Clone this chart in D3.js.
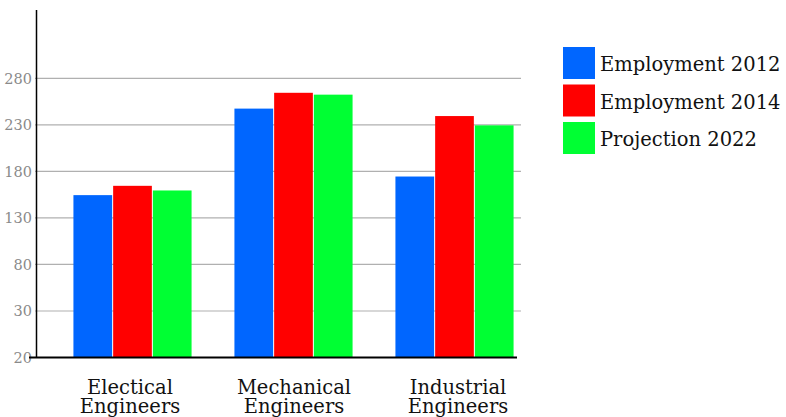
<!DOCTYPE html>
<html>
<head>
<meta charset="utf-8">
<script src="https://cdn.jsdelivr.net/npm/d3@7"></script>
<style>
  html, body { margin: 0; padding: 0; background: #fff; }
  svg { display: block; }
</style>
</head>
<body>
<svg id="chart" width="786" height="417"></svg>
<script>
const categories = [["Electical", "Engineers"], ["Mechanical", "Engineers"], ["Industrial", "Engineers"]];
const seriesNames = ["Employment 2012", "Employment 2014", "Projection 2022"];
const seriesColors = ["#0066ff", "#ff0000", "#00ff33"];
const employment2012 = [154, 247, 174];
const employment2014 = [164, 264, 239];
const projection2022 = [159, 262, 229];
const tickValues = [-20, 30, 80, 130, 180, 230, 280];
const tickLabels = ["20", "30", "80", "130", "180", "230", "280"];

const seriesValues = [employment2012, employment2014, projection2022];
const FONT = "'DejaVu Serif', serif";

const svg = d3.select("#chart");

const y = d3.scaleLinear().domain([-20, 353]).range([357, 10]);
const x0 = d3.scaleBand().domain(d3.range(categories.length))
  .range([52.5, 535.5]).paddingInner(0.26).paddingOuter(0.13);
const x1 = d3.scaleBand().domain(d3.range(seriesNames.length))
  .range([0, x0.bandwidth()]);

// gridlines + y tick labels
const yAxis = d3.axisLeft(y).tickValues(tickValues)
  .tickSize(0).tickPadding(5)
  .tickFormat((d, i) => tickLabels[i]);
const gy = svg.append("g").attr("transform", "translate(37,0)").call(yAxis);
gy.select(".domain").remove();
gy.selectAll(".tick text")
  .attr("fill", "#8a8a8a").style("font-family", FONT).style("font-size", "14.5px")
  .attr("dy", "0.36em");
gy.selectAll(".tick").filter(d => d !== -20).append("line")
  .attr("x1", -2).attr("x2", 484).attr("stroke", "#b0b0b0").attr("stroke-width", 1.2);

// bars
const groups = svg.append("g").selectAll("g")
  .data(categories).join("g")
  .attr("transform", (d, i) => `translate(${x0(i)},0)`);
groups.selectAll("rect")
  .data((d, i) => seriesValues.map((s, j) => ({ j, v: s[i] })))
  .join("rect")
  .attr("x", d => x1(d.j))
  .attr("width", x1.bandwidth() - 1)
  .attr("y", d => y(d.v))
  .attr("height", d => y(-20) - y(d.v))
  .attr("fill", d => seriesColors[d.j]);

// axes lines
svg.append("line").attr("x1", 36.5).attr("x2", 36.5).attr("y1", y(353)).attr("y2", 357)
  .attr("stroke", "#000").attr("stroke-width", 1.5);
svg.append("line").attr("x1", 29).attr("x2", 517).attr("y1", 357.5).attr("y2", 357.5)
  .attr("stroke", "#000").attr("stroke-width", 2);

// x labels
const xl = svg.append("g").selectAll("text").data(categories).join("text")
  .attr("text-anchor", "middle")
  .attr("x", (d, i) => x0(i) + x0.bandwidth() / 2 + (i - 1) * 3)
  .attr("y", 394)
  .style("font-family", FONT).style("font-size", "19.5px").attr("fill", "#111");
xl.selectAll("tspan").data(d => d).join("tspan")
  .attr("x", function () { return d3.select(this.parentNode).attr("x"); })
  .attr("dy", (d, k) => k === 0 ? 0 : 18.5)
  .text(d => d);

// legend
const lg = svg.append("g").selectAll("g").data(seriesNames).join("g")
  .attr("transform", (d, i) => `translate(563,${47 + i * 37.5})`);
lg.append("rect").attr("width", 32).attr("height", 32).attr("fill", (d, i) => seriesColors[i]);
lg.append("text").attr("x", 37).attr("y", 24)
  .style("font-family", FONT).style("font-size", "19.5px").attr("fill", "#111")
  .text(d => d);
</script>
</body>
</html>
